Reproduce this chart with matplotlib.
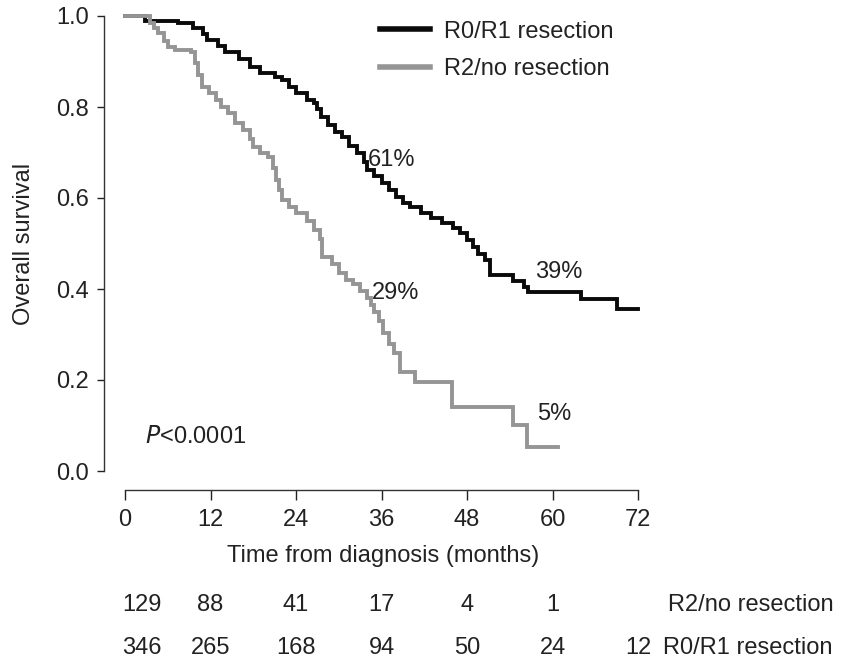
import matplotlib
matplotlib.use("Agg")
import matplotlib.pyplot as plt
import matplotlib.transforms as mtransforms

plt.rcParams.update({
    "font.family": ["Liberation Sans", "DejaVu Sans"],
    "font.size": 17,
    "text.color": "#222222",
    "axes.labelcolor": "#222222",
    "xtick.color": "#222222",
    "ytick.color": "#222222",
})

# Kaplan-Meier step values (months, survival)
R01_T = [0, 2.8, 7.5, 9.5, 11, 11.5, 13, 14, 16, 17.5, 19, 21, 22, 23, 24, 25.5,
         26.5, 27, 27.5, 28.5, 29.5, 30.5, 31.5, 32.5, 33.5, 34, 35, 36, 37, 38,
         39, 40, 41.5, 43, 44.5, 46, 47, 48, 48.8, 49.5, 50.5, 51.2, 54.5, 56,
         56.5, 64, 69, 72]
R01_S = [1.0, 0.99, 0.985, 0.974, 0.96, 0.947, 0.935, 0.921, 0.905, 0.888, 0.875,
         0.865, 0.859, 0.845, 0.831, 0.815, 0.809, 0.795, 0.778, 0.76, 0.745,
         0.734, 0.715, 0.699, 0.68, 0.662, 0.648, 0.633, 0.617, 0.602, 0.59, 0.58,
         0.567, 0.556, 0.545, 0.534, 0.523, 0.508, 0.492, 0.478, 0.464, 0.431,
         0.418, 0.404, 0.393, 0.378, 0.356, 0.356]

R2_T = [0, 3.5, 4, 4.7, 5.5, 6, 7, 9.3, 9.8, 10.3, 10.8, 11.8, 12.8, 13.5, 14.5,
        15.5, 16.5, 17.5, 18, 19, 20, 20.8, 21.2, 21.6, 22, 23, 24, 25.5, 26.5,
        27.3, 27.7, 29, 30, 31, 32, 33, 34, 34.5, 35, 35.7, 36.2, 37, 37.8, 38.6,
        40.7, 45.9, 54.5, 56.4, 60.8]
R2_S = [1.0, 0.985, 0.974, 0.963, 0.945, 0.932, 0.925, 0.921, 0.897, 0.87, 0.844,
        0.83, 0.815, 0.80, 0.787, 0.765, 0.749, 0.73, 0.712, 0.70, 0.69, 0.665,
        0.64, 0.617, 0.596, 0.58, 0.567, 0.55, 0.53, 0.51, 0.47, 0.455, 0.435,
        0.42, 0.41, 0.395, 0.38, 0.365, 0.35, 0.33, 0.303, 0.28, 0.259, 0.218,
        0.196, 0.141, 0.101, 0.053, 0.053]

X_TICKS = [0, 12, 24, 36, 48, 60, 72]
Y_TICKS = [0.0, 0.2, 0.4, 0.6, 0.8, 1.0]

# numbers at risk
RISK_R2 = ["129", "88", "41", "17", "4", "1", ""]
RISK_R01 = ["346", "265", "168", "94", "50", "24", "12"]

BLACK = "#0a0a0a"
GREY = "#959595"

fig = plt.figure(figsize=(8.46, 6.64), dpi=100)
W, H = 846, 664
ax = fig.add_axes([125 / W, 1 - 471 / H, (638 - 125) / W, (471 - 16) / H])

ax.step(R01_T, R01_S, where="post", color=BLACK, lw=2.8, label="R0/R1 resection",
        clip_on=False, solid_joinstyle="miter")
ax.step(R2_T, R2_S, where="post", color=GREY, lw=2.8, label="R2/no resection",
        clip_on=False, solid_joinstyle="miter")

ax.set_xlim(0, 72)
ax.set_ylim(0, 1)
ax.set_xticks(X_TICKS)
ax.set_yticks(Y_TICKS)
ax.set_yticklabels([f"{v:.1f}" for v in Y_TICKS])

for s in ["top", "right"]:
    ax.spines[s].set_visible(False)
ax.spines["left"].set_position(("outward", 15))
ax.spines["bottom"].set_position(("outward", 14))
for s in ["left", "bottom"]:
    ax.spines[s].set_linewidth(1.0)
    ax.spines[s].set_color("#333333")
ax.tick_params(axis="x", length=7, width=1.0, pad=6, direction="out")
ax.tick_params(axis="y", length=5, width=1.0, pad=6, direction="out")

ax.set_xlabel("Time from diagnosis (months)")
ax.xaxis.set_label_coords(0.503, -0.163)
ax.set_ylabel("Overall survival")
ax.yaxis.set_label_coords(-0.175, 0.5)

# annotations
ax.text(34.0, 0.683, "61%", ha="left", va="center")
ax.text(57.5, 0.437, "39%", ha="left", va="center")
ax.text(34.7, 0.391, "29%", ha="left", va="center")
ax.text(57.8, 0.125, "5%", ha="left", va="center")
ax.text(2.8, 0.075, r"$\it{P}$<0.0001", ha="left", va="center")

ax.legend(loc="upper left", bbox_to_anchor=(0.497, 0.99), frameon=False,
          borderpad=0, borderaxespad=0, handlelength=2.1, handletextpad=0.6,
          labelspacing=0.65, fontsize=17)
for line in ax.get_legend().get_lines():
    line.set_linewidth(4)

# numbers-at-risk table
trans = mtransforms.blended_transform_factory(ax.transData, fig.transFigure)
for i, (t, a, b) in enumerate(zip(X_TICKS, RISK_R2, RISK_R01)):
    xpos = 2.4 if i == 0 else t
    ax.text(xpos, 1 - 605 / H, a, ha="center", va="center", transform=trans, clip_on=False)
    ax.text(xpos, 1 - 648 / H, b, ha="center", va="center", transform=trans, clip_on=False)
ax.text(76.2, 1 - 605 / H, "R2/no resection", ha="left", va="center", transform=trans)
ax.text(75.5, 1 - 648 / H, "R0/R1 resection", ha="left", va="center", transform=trans)

fig.savefig("out.png", dpi=100)
